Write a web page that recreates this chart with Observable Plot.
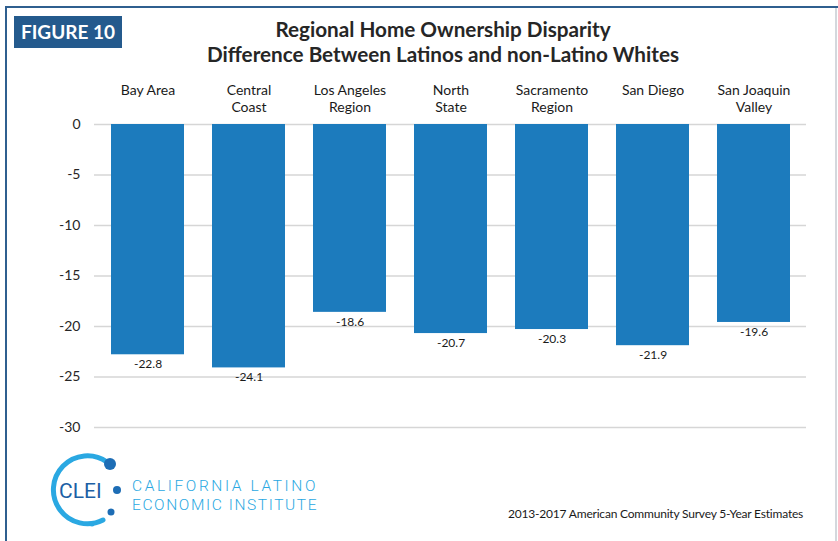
<!DOCTYPE html>
<html>
<head>
<meta charset="utf-8">
<script src="https://cdn.jsdelivr.net/npm/d3@7"></script>
<script src="https://cdn.jsdelivr.net/npm/@observablehq/plot@0.6"></script>
<style>
  html, body { margin: 0; padding: 0; background: #fff; }
  #wrap { position: relative; width: 838px; height: 541px; overflow: hidden; font-family: Lato, "Open Sans", sans-serif; }
  #frameTop { position: absolute; left: 5px; top: 6px; width: 833px; height: 2px; background: #2f5f8f; }
  #frameLeft { position: absolute; left: 5px; top: 6px; width: 1.5px; height: 535px; background: #2f5f8f; }
  #frameRight { position: absolute; left: 835px; top: 8px; width: 1.5px; height: 533px; background: #d4d8dd; }
  #fig { position: absolute; left: 14px; top: 16px; width: 108px; height: 32px; background: #245a8d; color: #fff;
         font-weight: 700; font-size: 19px; line-height: 32px; text-align: center; letter-spacing: 0px; }
  #title { position: absolute; left: 93px; width: 700px; top: 17px; text-align: center; font-weight: 700;
           font-size: 20.7px; line-height: 25px; color: #262626; }
  #source { position: absolute; left: 508px; top: 506px; font-size: 12px; color: #1a1a1a; letter-spacing: -0.2px; white-space: nowrap; }
  #chart { position: absolute; left: 0; top: 0; }
  #logo { position: absolute; left: 0; top: 440px; }
</style>
</head>
<body>
<div id="wrap">
  <div id="chart"></div>
  <div id="frameTop"></div>
  <div id="frameLeft"></div>
  <div id="frameRight"></div>
  <div id="fig">FIGURE 10</div>
  <div id="title">Regional Home Ownership Disparity<br>Difference Between Latinos and non-Latino Whites</div>
  <svg id="logo" width="340" height="100">
    <path d="M 107 22 A 34 34 0 1 0 103 80" fill="none" stroke="#2aa8e2" stroke-width="5" stroke-linecap="round"/>
    <circle cx="110" cy="24" r="6" fill="#1d6db5"/>
    <circle cx="117" cy="50" r="4" fill="#1d6db5"/>
    <circle cx="111" cy="72" r="3.5" fill="#1d6db5"/>
    <circle cx="92" cy="84" r="2.5" fill="#2aa8e2"/>
    <text x="59" y="58" font-family="Roboto, sans-serif" font-size="21" fill="#1d5fa5">CLEI</text>
    <text x="132" y="51" font-family="Roboto, sans-serif" font-weight="300" font-size="15.5" fill="#2aa8e2" letter-spacing="2.6">CALIFORNIA LATINO</text>
    <text x="132" y="70" font-family="Roboto, sans-serif" font-weight="300" font-size="15.5" fill="#2aa8e2" letter-spacing="1.6">ECONOMIC INSTITUTE</text>
  </svg>
  <div id="source">2013-2017 American Community Survey 5-Year Estimates</div>
</div>
<script>
const regions = ["Bay Area", "Central Coast", "Los Angeles Region", "North State", "Sacramento Region", "San Diego", "San Joaquin Valley"];
const regionLine1 = ["Bay Area", "Central", "Los Angeles", "North", "Sacramento", "San Diego", "San Joaquin"];
const regionLine2 = ["", "Coast", "Region", "State", "Region", "", "Valley"];
const disparity = [-22.8, -24.1, -18.6, -20.7, -20.3, -21.9, -19.6];
const yTicks = [0, -5, -10, -15, -20, -25, -30];

const data = regions.map((r, i) => ({region: r, line1: regionLine1[i], line2: regionLine2[i], value: disparity[i]}));

const chart = Plot.plot({
  width: 838,
  height: 541,
  marginTop: 124,
  marginBottom: 114,
  marginLeft: 94,
  marginRight: 32,
  style: {fontFamily: "Lato, 'Open Sans', sans-serif", color: "#262626", background: "transparent"},
  x: {domain: regions, paddingInner: 0.28, paddingOuter: 0.14, axis: null},
  y: {domain: [-30, 0], axis: null},
  marks: [
    Plot.gridY(yTicks, {stroke: "#d6d6d6", strokeOpacity: 1, strokeWidth: 1.5}),
    Plot.axisY(yTicks, {tickSize: 0, tickPadding: 14, fontSize: 14, fill: "#262626", label: null, tickFormat: d => String(d)}),
    Plot.barY(data, {x: "region", y: "value", fill: "#1c7bbd"}),
    Plot.text(data, {x: "region", y: "value", text: d => d.value.toFixed(1), lineAnchor: "top", dy: 5, fontSize: 12, fill: "#1a1a1a"}),
    Plot.text(data, {x: "region", text: "line1", frameAnchor: "top", lineAnchor: "middle", dy: -34, fontSize: 14, fill: "#1a1a1a"}),
    Plot.text(data, {x: "region", text: "line2", frameAnchor: "top", lineAnchor: "middle", dy: -17, fontSize: 14, fill: "#1a1a1a"})
  ]
});
document.getElementById("chart").appendChild(chart);
</script>
</body>
</html>
